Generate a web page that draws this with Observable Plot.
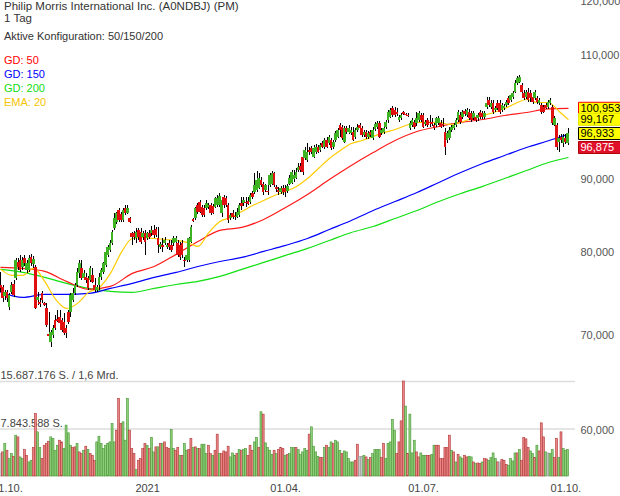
<!DOCTYPE html>
<html><head><meta charset="utf-8">
<script src="https://cdn.jsdelivr.net/npm/d3@7"></script>
<script src="https://cdn.jsdelivr.net/npm/@observablehq/plot@0.6"></script>
<style>
body{margin:0;background:#fff;font-family:"Liberation Sans",Arial,sans-serif;}
#wrap{position:relative;width:620px;height:496px;overflow:hidden;}
#wrap svg{position:absolute;left:0;top:0;}
.t{position:absolute;left:4px;font-size:11px;line-height:12px;white-space:nowrap;color:#333;}
</style></head><body><div id="wrap"></div>
<script>
// ---- daily candles (EUR), index 0 = 28.09.2020 ... last = 04.10.2021
const open = [75.86,75.62,74.53,75.02,73.22,75.02,75.98,76.73,78.73,78.98,
78.10,79.24,77.72,77.72,79.37,78.48,78.10,74.05,73.81,74.89,
73.70,73.10,70.10,69.21,69.99,71.70,71.82,72.05,71.70,71.47,
70.79,72.63,72.63,74.05,74.89,75.86,77.35,77.97,76.73,76.85,
76.73,76.48,77.10,75.86,75.26,75.86,76.85,77.47,78.35,79.63,
80.27,81.18,83.16,83.97,85.61,85.06,84.24,85.88,85.20,84.51,
82.50,82.50,81.83,82.90,82.63,81.97,82.50,81.83,82.50,82.50,
82.90,83.03,81.83,80.66,80.92,81.18,80.66,81.18,80.92,81.18,
81.31,81.18,80.92,81.18,78.98,78.98,78.98,81.31,84.38,84.51,
86.30,86.72,86.02,85.88,85.88,86.02,86.30,86.16,86.02,86.30,
86.30,85.20,87.42,87.28,86.30,84.51,85.20,84.79,84.65,84.92,
86.58,86.58,86.72,86.86,86.72,87.99,88.13,88.42,88.71,89.86,
89.28,88.42,88.28,89.14,89.28,90.87,88.85,88.42,88.13,88.71,
88.71,88.28,89.28,89.43,90.00,90.14,91.31,91.91,93.25,93.10,
92.80,94.31,94.61,93.25,94.00,94.77,94.31,95.38,94.77,95.84,
95.38,95.84,94.77,95.84,96.31,98.19,97.87,95.53,97.71,97.08,
96.93,97.08,96.31,97.40,98.19,97.71,96.62,97.08,96.31,97.08,
96.15,97.55,97.87,98.51,96.93,97.08,97.87,98.98,99.46,100.92,
100.59,100.27,98.98,99.30,100.27,99.94,99.78,97.71,98.19,98.67,
98.51,98.98,99.78,99.78,98.35,98.98,98.67,98.67,98.19,98.19,
98.51,98.51,98.35,97.08,95.84,96.15,97.40,97.71,98.19,98.98,
99.78,99.46,100.43,99.78,100.27,100.10,99.30,99.46,99.30,100.27,
100.10,99.46,101.08,102.23,101.08,101.74,100.59,101.74,101.74,100.59,
100.92,101.41,102.56,102.23,102.73,103.56,105.08,105.24,104.74,103.39,
102.73,103.56,103.39,102.73,102.56,102.56,101.74,101.41,101.08,101.41,
101.08,101.74,101.08,98.19,98.19,95.53,96.31,95.38,96.15,95.38];
const high = [77.47,75.86,75.26,75.26,74.89,76.23,76.48,79.24,79.24,79.63,
79.37,79.63,78.98,79.63,79.76,79.50,78.35,75.02,74.29,75.14,
73.81,73.70,72.63,70.56,71.13,72.28,72.87,72.87,71.93,72.51,
71.13,72.87,74.89,75.50,76.11,77.97,78.98,78.98,77.72,77.35,
76.97,78.22,77.97,76.73,75.86,77.35,77.97,78.73,80.53,80.92,
81.57,82.90,85.20,85.33,85.88,85.33,85.88,86.30,86.30,84.65,
82.63,82.76,83.16,83.16,83.16,82.76,82.90,82.63,82.90,83.43,
83.56,83.30,83.30,81.31,81.83,81.97,81.18,81.57,81.57,82.10,
82.10,81.57,81.31,81.57,79.37,80.66,81.97,83.56,84.51,86.02,
86.58,87.00,86.30,86.30,87.00,86.58,86.58,86.44,87.42,87.71,
87.99,87.42,87.71,87.57,86.58,85.20,85.61,85.33,85.88,86.58,
87.42,87.42,87.42,87.42,87.99,88.28,90.87,91.17,90.87,90.29,
89.57,89.28,90.00,90.87,91.17,91.02,89.14,88.85,89.00,89.14,
89.14,89.28,90.58,91.31,91.31,91.61,92.36,92.36,93.85,94.77,
95.38,94.77,94.92,95.07,95.22,95.07,95.38,95.69,96.15,96.31,
96.62,96.15,95.84,97.24,97.71,98.51,98.19,98.03,98.03,98.19,
97.87,97.87,97.71,98.35,98.51,98.03,97.40,97.40,97.24,97.40,
97.87,98.67,98.83,98.83,97.71,98.03,98.98,100.59,100.92,101.25,
101.08,100.92,99.78,100.10,100.43,100.10,100.10,98.83,99.30,98.98,
100.27,100.43,100.10,100.10,98.98,99.30,99.78,99.30,98.51,99.46,
99.62,98.98,99.30,97.71,97.24,97.87,98.19,98.51,99.30,100.59,
100.27,100.59,100.76,100.92,100.76,100.43,100.43,99.78,100.10,100.59,
100.43,100.43,102.73,102.73,102.23,102.23,101.25,102.23,102.23,101.74,
101.57,102.23,102.90,103.39,103.73,105.58,106.27,106.44,105.08,103.90,
103.90,104.23,103.90,103.06,103.90,102.90,102.56,101.74,101.41,101.74,
102.23,102.56,101.41,99.62,98.51,96.62,96.77,96.77,96.77,97.71];
const low = [75.02,73.81,74.05,73.81,72.87,74.77,74.41,76.48,77.72,77.47,
77.72,78.22,77.35,77.47,78.22,77.97,72.99,73.46,73.22,73.70,
73.34,70.90,69.65,68.65,69.65,70.56,71.47,71.13,70.33,69.99,
69.65,71.24,72.05,73.81,74.65,75.62,76.73,76.48,76.48,76.11,
75.26,76.23,76.11,75.02,75.02,75.26,76.48,77.22,78.10,79.37,
80.01,80.92,82.90,83.70,83.97,83.97,83.97,84.92,85.06,83.83,
80.92,81.57,81.18,81.57,81.05,81.57,79.63,81.57,81.70,82.10,
81.83,81.97,79.88,80.40,80.01,80.92,80.40,80.27,80.01,80.79,
81.05,79.37,78.98,79.24,78.10,78.73,78.73,81.18,83.97,84.24,
85.06,85.20,84.65,84.65,85.61,85.75,84.92,85.06,85.88,86.02,
86.02,84.65,85.88,86.02,83.83,84.24,84.38,84.24,84.51,84.65,
85.61,86.16,86.02,86.30,86.44,87.14,87.85,88.13,88.56,88.85,
87.71,88.13,87.71,88.85,89.14,88.85,88.13,87.71,87.85,87.71,
87.42,87.99,89.14,89.28,89.57,90.00,91.02,91.02,90.58,92.80,
92.50,93.55,93.70,93.10,93.70,93.85,94.00,94.61,94.46,94.61,
95.07,94.31,94.46,95.53,96.15,96.31,95.84,95.38,96.77,96.77,
96.62,95.69,96.00,97.08,97.08,96.31,96.31,96.00,96.00,96.31,
95.84,97.24,97.55,96.15,96.62,96.77,97.55,98.51,99.30,99.46,
99.46,99.62,98.67,98.98,99.78,99.62,99.46,97.40,97.87,97.55,
98.03,98.67,98.67,97.71,98.03,97.87,97.87,98.03,97.40,97.87,
98.19,97.71,97.87,93.55,95.38,95.84,97.08,97.40,97.87,98.67,
98.35,99.14,99.62,99.46,98.98,98.67,98.98,98.67,98.83,99.14,
99.14,99.14,100.76,101.08,100.76,99.94,100.27,100.59,99.94,100.27,
100.59,101.08,101.41,101.90,102.39,103.39,104.74,105.08,103.23,102.23,
102.39,101.90,101.90,101.57,102.23,101.57,101.41,99.94,100.10,100.76,
100.76,101.41,98.19,98.03,94.31,94.00,95.38,94.77,95.22,95.07];
const close = [75.50,74.29,75.02,74.29,74.65,75.86,74.65,78.98,78.10,77.72,
78.98,78.60,78.60,79.24,78.60,79.11,73.10,74.41,73.58,74.05,
73.46,71.13,69.88,70.33,70.79,70.79,71.59,71.36,70.56,70.22,
70.22,71.47,74.65,74.89,75.86,77.47,78.60,76.73,77.35,76.48,
75.50,77.97,76.23,75.26,75.62,76.85,77.72,78.60,80.01,80.66,
81.18,82.63,84.51,85.20,84.24,84.24,85.61,85.20,85.88,83.97,
81.97,81.97,82.63,81.97,81.31,82.50,81.31,82.50,81.97,82.90,
82.23,82.23,80.92,81.05,80.66,81.57,80.92,80.66,80.27,81.83,
81.83,79.63,79.37,79.63,78.85,79.63,81.83,83.30,84.10,85.88,
85.33,85.33,84.92,84.92,86.58,86.30,85.20,85.20,87.28,87.28,
87.57,87.00,86.30,86.30,84.24,84.92,84.65,84.65,85.33,86.30,
86.16,87.00,86.58,86.44,87.71,87.42,89.14,89.86,90.14,89.14,
88.13,89.14,88.13,90.58,90.87,89.14,88.56,88.13,88.71,88.13,
88.13,89.00,90.14,91.02,90.58,91.02,91.76,91.31,91.02,94.31,
94.00,94.00,94.00,94.61,94.77,94.00,95.07,94.77,95.84,94.77,
96.31,94.61,95.53,96.93,97.40,97.40,96.15,97.71,97.08,97.71,
97.40,95.84,97.40,97.87,97.71,96.62,97.08,96.31,96.93,96.62,
97.40,98.35,98.51,96.31,97.40,97.71,98.67,100.27,100.59,99.78,
99.78,99.94,99.46,99.78,99.94,99.78,99.62,98.51,98.98,97.87,
99.30,100.10,98.98,97.87,98.67,98.19,98.51,98.35,97.71,99.30,
99.30,97.87,98.19,94.77,96.93,97.40,97.87,98.19,98.98,100.27,
98.67,100.27,99.94,100.59,99.30,98.98,100.10,98.98,99.78,99.46,
99.46,100.10,101.74,101.41,101.74,100.27,100.92,100.92,100.27,101.41,
101.25,101.90,101.74,103.06,103.39,105.08,105.92,106.10,103.56,102.56,
103.56,102.23,102.56,101.90,103.56,101.90,102.23,100.27,100.27,100.92,
101.90,102.23,98.51,99.30,94.77,96.15,95.84,96.31,95.53,96.88];
// volume in million shares, and day direction (g up, r down, n unchanged)
const volumeMio = [3.70,3.98,5.36,4.25,2.87,3.70,3.26,6.74,6.46,3.15,
2.87,4.36,3.42,2.32,2.60,4.70,10.33,7.29,4.70,2.87,
5.08,5.36,5.74,6.46,6.19,4.25,5.08,5.91,5.63,4.53,
8.40,7.13,5.08,4.70,4.81,5.36,3.98,3.70,4.25,4.92,
4.36,3.70,3.42,2.60,5.63,6.57,5.36,4.53,5.08,5.36,
5.63,8.67,5.63,7.57,12.82,8.67,8.95,5.91,12.82,7.57,
4.53,3.70,1.05,2.60,2.87,4.53,5.36,5.08,4.53,6.35,
3.98,4.81,4.81,5.36,5.36,5.63,4.70,4.53,7.68,4.53,
4.25,4.70,3.42,3.42,5.36,4.25,4.36,6.19,4.70,4.81,
4.53,4.53,5.25,5.25,3.70,5.08,3.70,3.42,4.25,6.91,
3.70,3.70,4.14,3.98,4.92,3.15,3.81,3.42,3.70,4.36,
4.25,4.36,4.53,3.42,5.08,4.25,5.63,6.35,4.70,10.61,
10.22,5.47,4.70,4.25,3.59,4.25,3.70,4.36,4.70,4.53,
3.42,3.54,3.70,4.70,4.70,4.70,4.36,3.54,3.98,4.53,
4.25,6.91,8.12,4.92,3.98,3.26,3.04,3.04,4.70,5.08,
4.70,5.63,5.36,5.91,5.63,4.25,3.70,4.14,3.98,2.87,
2.32,2.32,2.60,5.25,3.26,3.26,3.42,3.15,2.71,3.04,
3.70,4.36,4.36,4.36,3.04,5.36,2.87,5.36,5.63,9.34,
7.57,3.70,5.63,9.11,15.69,11.55,3.70,10.22,3.81,5.91,
3.98,3.15,3.81,3.42,3.42,3.42,3.42,3.59,5.08,5.08,
5.08,2.87,2.87,4.70,4.70,6.74,4.25,3.98,2.32,3.59,
3.15,2.87,3.42,3.15,3.26,3.15,2.32,2.04,2.15,2.04,
2.32,2.87,2.82,2.60,3.04,3.81,2.87,2.32,2.32,2.71,
2.60,1.93,1.77,2.87,2.49,3.81,3.81,4.36,2.60,6.35,
6.13,4.70,4.14,3.70,3.04,5.08,4.14,8.78,6.46,3.98,
3.81,3.70,4.36,3.04,6.19,3.04,7.29,4.53,4.25,4.36];
const volumeDir = "nrgrggrgrg"+"grrggrrggr"+"rrrggggrrg"+"gggrrgrrgr"+"grrrgggggg"+
  "gggrrrgggr"+"rrgrrrrgrg"+"grgrgrrrgg"+"rrgrggrrgr"+"grgggrrgrr"+
  "grrrrgggrg"+"rggrrrggrg"+"rggggrgrrr"+"grgggrgggg"+"grggggrrgr"+
  "ggrgggrggg"+"ggrrnngrgr"+"ggggrrgggg"+"grrrrgrggg"+"rrgggrrggr"+
  "rrrrrrgrgr"+"ggrrggrgrr"+"grrggggrnr"+"rrggggrgrr"+"rrggrgrrrg"+"nggrrgrggg";
// moving averages, read at sampled days
const smaIdx = [0,10,20,30,40,50,60,70,80,90,100,110,120,130,140,150,160,170,180,190,200,210,220,230,240,250,259];
const gd50  = [78.10,77.97,77.60,76.36,75.38,75.74,77.35,78.22,79.76,81.44,82.90,83.30,84.38,86.02,87.85,90.00,92.06,94.00,95.84,97.24,98.03,98.67,99.14,99.78,100.27,100.85,100.95];
const gd150 = [75.02,74.41,74.77,74.77,74.89,75.50,76.11,76.85,77.47,78.22,78.85,79.37,80.14,80.92,81.83,83.03,84.24,85.61,86.86,88.13,89.57,91.02,92.36,93.55,94.77,95.80,96.80];
const gd200 = [77.85,77.47,76.85,76.11,75.50,75.14,75.02,75.50,75.98,76.36,76.97,77.85,78.73,79.63,80.53,81.57,82.63,83.43,84.51,85.61,86.86,87.99,89.00,90.14,91.31,92.50,93.25];
const emaIdx = [0,5,10,15,20,25,30,35,40,45,50,55,60,65,70,75,80,85,90,95,100,105,110,115,120,125,130,135,140,145,150,155,160,165,170,175,180,185,190,195,200,205,210,215,220,225,230,235,240,245,250,255,259];
const ema20 = [77.85,77.10,77.10,77.97,76.36,74.17,73.10,73.70,75.02,75.62,77.35,80.01,81.83,81.97,81.83,81.70,81.57,81.31,80.79,82.63,84.10,84.65,85.47,86.30,87.00,87.71,88.28,89.00,90.14,91.61,93.10,94.31,95.38,95.84,96.46,97.08,97.55,98.19,98.67,98.67,98.67,98.35,98.67,99.30,99.78,100.27,100.92,101.74,102.39,101.90,101.90,100.43,99.17];
// axes
const priceTicks = [60,70,80,90,110,120];
const dateTickIdx = [3,67,130,193,258];
const dateTickLabels = ["01.10.","2021","01.04.","01.07.","01.10."];
const volTicks = [7.843588, 15.687176];
const volTickLabels = ["7.843.588 S.", "15.687.176 S. / 1,6 Mrd."];
const lastValues = [100.953, 99.167, 96.933, 96.875];

// ---- build
const fmt = v => v.toFixed(3).replace(".", ",");
const candles = open.map((o, i) => ({i, o, h: high[i], l: low[i], c: close[i], up: close[i] >= o}));
const vols = volumeMio.map((v, i) => ({i, v, d: volumeDir[i]}));
const xOpts = {type: "linear", domain: [-0.18, 262.4], axis: null};
const yPrice = {type: "log", domain: [56.65, 120.12]};
const font = {fontFamily: "'Liberation Sans', Arial, sans-serif", fontSize: "11px", background: "transparent"};
const W = 620, H = 496;

const volFill = {g: "#8ccf78", r: "#e98585", n: "#c8c8c8"};
const volStroke = {g: "#4a9636", r: "#b23636", n: "#9a9a9a"};

const volPlot = Plot.plot({
  width: W, height: H, marginLeft: 0, marginRight: 45, marginTop: 381, marginBottom: 20,
  style: font,
  x: xOpts,
  y: {domain: [0, 15.687176], axis: null},
  color: {type: "identity"},
  marks: [
    Plot.ruleY(volTicks, {stroke: "#dddddd", strokeWidth: 1.5}),
    Plot.text(volTicks, {y: d => d, text: (d, i) => volTickLabels[i], frameAnchor: "left", textAnchor: "start", dy: -6, fill: "#444", fontSize: 11}),
    Plot.rect(vols, {x1: d => d.i - 0.45, x2: d => d.i + 0.45, y1: 0, y2: "v",
      fill: d => volFill[d.d], stroke: d => volStroke[d.d], strokeWidth: 0.6}),
    Plot.axisX(dateTickIdx, {tickSize: 0, tickPadding: 8, fontSize: 11, color: "#444",
      tickFormat: d => dateTickLabels[dateTickIdx.indexOf(d)]})
  ]
});

const maLine = (idx, vals, color) => Plot.line(idx.map((i, j) => ({i, v: vals[j]})),
  {x: "i", y: "v", stroke: color, strokeWidth: 1.2, curve: "monotone-x"});

// label layout: avoid overlaps using the library's y scale (same range as the price plot)
const ys = Plot.scale({y: {...yPrice, range: [H - 30, 0]}});
const labelStyle = [
  {fill: "#ffff00", stroke: "#ff0000", text: "#000"},
  {fill: "#ffff00", stroke: "#e6e600", text: "#000"},
  {fill: "#ffff00", stroke: "#000000", text: "#000"},
  {fill: "#e0102a", stroke: "#b00000", text: "#fff"}
];
let prevBottom = -Infinity;
const labelDy = lastValues.map(v => {
  const top = ys.apply(v) - 6;
  let dy = 0;
  if (top < prevBottom - 1) dy = prevBottom + 2 - top;
  prevBottom = top + dy + 12;
  return dy;
});
const boxSymbol = {draw(ctx) { ctx.moveTo(3, -6); ctx.lineTo(45, -6); ctx.lineTo(45, 6); ctx.lineTo(3, 6); ctx.closePath(); }};
const labelMarks = lastValues.flatMap((v, k) => [
  Plot.dot([v], {y: d => d, frameAnchor: "right", symbol: boxSymbol, r: 5, dy: labelDy[k],
    fill: labelStyle[k].fill, stroke: labelStyle[k].stroke, strokeWidth: 1}),
  Plot.text([v], {y: d => d, text: d => fmt(d), frameAnchor: "right", textAnchor: "start", dx: 5, dy: labelDy[k],
    fill: labelStyle[k].text, fontSize: 11})
]);

const pricePlot = Plot.plot({
  width: W, height: H, marginLeft: 0, marginRight: 45, marginTop: 0, marginBottom: 30,
  style: font,
  x: xOpts,
  y: {...yPrice, axis: null},
  color: {type: "identity"},
  marks: [
    Plot.axisY(priceTicks, {anchor: "right", tickSize: 0, tickPadding: 5, tickFormat: fmt, fontSize: 11, color: "#555"}),
    maLine(smaIdx, gd200, "#11e011"),
    maLine(smaIdx, gd150, "#0000ff"),
    maLine(smaIdx, gd50, "#ff1a1a"),
    maLine(emaIdx, ema20, "#ffcc00"),
    Plot.ruleX(candles, {x: "i", y1: "l", y2: "h", stroke: "#000", strokeWidth: 1, shapeRendering: "crispEdges"}),
    Plot.rect(candles, {x1: d => d.i - 0.6, x2: d => d.i + 0.6, y1: "o", y2: "c",
      fill: d => d.up ? "#3db324" : "#e01010", shapeRendering: "crispEdges"}),
    ...labelMarks
  ]
});

const wrap = document.getElementById("wrap");
wrap.appendChild(volPlot);
wrap.appendChild(pricePlot);
const texts = [
  ["Philip Morris International Inc. (A0NDBJ) (PM)", 0, "#333", 11.5],
  ["1 Tag", 12, "#333", 11.5],
  ["Aktive Konfiguration: 50/150/200", 30, "#333", 11],
  ["GD: 50", 54, "#ff0000", 11],
  ["GD: 150", 68, "#0000ff", 11],
  ["GD: 200", 82, "#11dd11", 11],
  ["EMA: 20", 96, "#f5c400", 11]
];
for (const [s, top, col, fs] of texts) {
  const d = document.createElement("div");
  d.className = "t"; d.textContent = s; d.style.top = top + "px"; d.style.color = col;
  d.style.fontSize = fs + "px"; d.style.lineHeight = "12px";
  wrap.appendChild(d);
}
</script></body></html>
